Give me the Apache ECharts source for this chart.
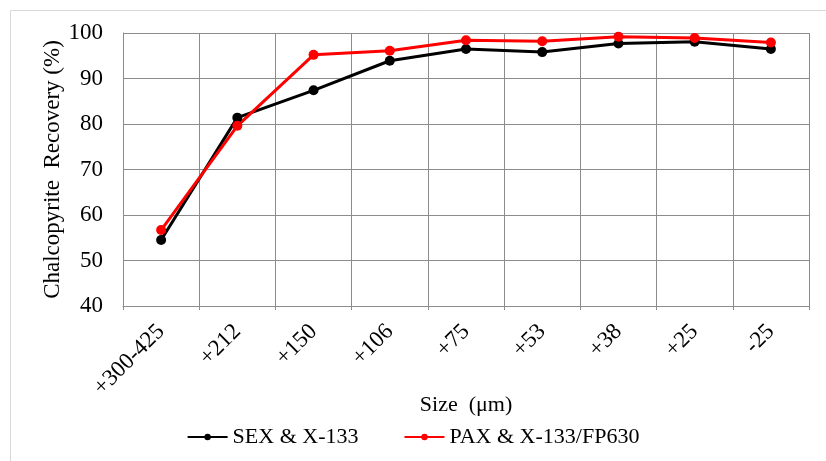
<!DOCTYPE html>
<html>
<head>
<meta charset="utf-8">
<script src="https://cdn.jsdelivr.net/npm/echarts@6/dist/echarts.min.js"></script>
<style>
  html, body { margin: 0; padding: 0; background: #fff; }
  #chart { width: 826px; height: 461px; }
</style>
</head>
<body>
<div id="chart"></div>
<script>
// Particle size fractions
const sizes = ['+300-425', '+212', '+150', '+106', '+75', '+53', '+38', '+25', '-25'];
// Chalcopyrite recovery (%) per fraction
const sexX133 = [54.5, 81.4, 87.4, 93.9, 96.5, 95.8, 97.7, 98.1, 96.5];
const paxX133Fp630 = [56.7, 79.6, 95.2, 96.1, 98.4, 98.2, 99.2, 98.9, 97.9];
const yTicks = { min: 40, max: 100, step: 10 };

const font = 'Liberation Serif, Times New Roman, serif';
const gridColor = '#8c8c8c';

const chart = echarts.init(document.getElementById('chart'), null, { renderer: 'canvas' });

function series(name, data, color) {
  return {
    name: name,
    type: 'line',
    data: data,
    symbol: 'circle',
    symbolSize: 10,
    lineStyle: { color: color, width: 3 },
    itemStyle: { color: color },
    emphasis: { disabled: true },
    animation: false
  };
}

chart.setOption({
  backgroundColor: '#fff',
  animation: false,
  textStyle: { fontFamily: font, color: '#000' },
  grid: { left: 123, right: 17, top: 33, bottom: 155, containLabel: false },
  graphic: [{
    type: 'rect',
    shape: { x: 10.5, y: 10.5, width: 840, height: 470 },
    style: { fill: 'none', stroke: '#d9d9d9', lineWidth: 1 },
    silent: true
  }],
  legend: {
    bottom: 8,
    left: 'center',
    itemGap: 45,
    itemWidth: 40,
    itemHeight: 8,
    textStyle: { fontFamily: font, fontSize: 22, color: '#000' },
    data: ['SEX & X-133', 'PAX & X-133/FP630']
  },
  xAxis: {
    type: 'category',
    data: sizes,
    boundaryGap: true,
    name: 'Size  (\u03bcm)',
    nameLocation: 'middle',
    nameGap: 88,
    nameMoveOverlap: false,
    nameTextStyle: { fontFamily: font, fontSize: 22, color: '#000' },
    axisLine: { show: true, lineStyle: { color: gridColor, width: 1 } },
    axisTick: { show: true, length: 4, lineStyle: { color: gridColor } },
    axisLabel: { rotate: 45, fontFamily: font, fontSize: 23, color: '#000', margin: 22 },
    splitLine: { show: true, lineStyle: { color: gridColor, width: 1 } }
  },
  yAxis: {
    type: 'value',
    min: yTicks.min,
    max: yTicks.max,
    interval: yTicks.step,
    name: 'Chalcopyrite  Recovery (%)',
    nameLocation: 'middle',
    nameGap: 59,
    nameMoveOverlap: false,
    nameTextStyle: { fontFamily: font, fontSize: 23, color: '#000' },
    axisLine: { show: true, lineStyle: { color: gridColor, width: 1 } },
    axisTick: { show: false },
    axisLabel: { fontFamily: font, fontSize: 23, color: '#000', margin: 20 },
    splitLine: { show: true, lineStyle: { color: gridColor, width: 1 } }
  },
  series: [
    series('SEX & X-133', sexX133, '#000000'),
    series('PAX & X-133/FP630', paxX133Fp630, '#ff0000')
  ]
});
</script>
</body>
</html>
